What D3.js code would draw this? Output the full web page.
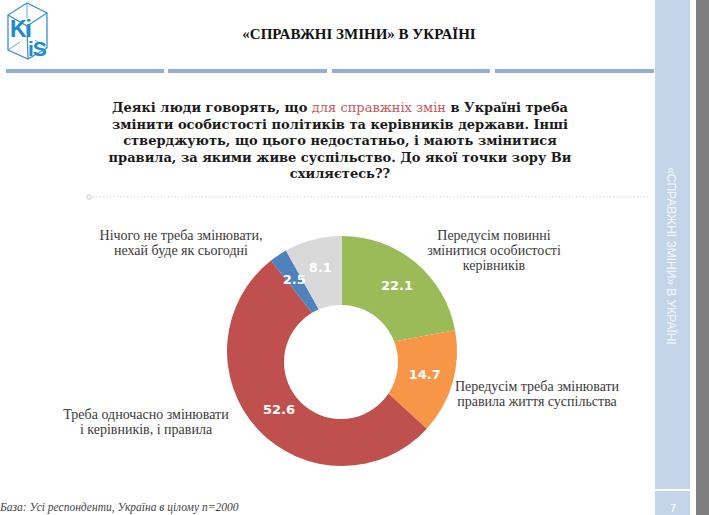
<!DOCTYPE html>
<html>
<head>
<meta charset="utf-8">
<script src="https://cdn.jsdelivr.net/npm/d3@7"></script>
<style>
  body { margin: 0; background: #fff; }
  svg { display: block; }
  .serif { font-family: "Liberation Serif", Tinos, "Nimbus Roman", FreeSerif, "Noto Serif", "DejaVu Serif", "Times New Roman", Times, serif; }
  .bserif { font-family: "DejaVu Serif", "Noto Serif", "Liberation Serif", Tinos, FreeSerif, serif; }
</style>
</head>
<body>
<svg width="709" height="515"></svg>
<script>
// chart data
var categories = [
  "Передусім повинні змінитися особистості керівників",
  "Передусім треба змінювати правила життя суспільства",
  "Треба одночасно змінювати і керівників, і правила",
  "Нічого не треба змінювати, нехай буде як сьогодні",
  "Важко відповісти"
];
var values = [22.1, 14.7, 52.6, 2.5, 8.1];
var sliceColors = ["#9bbb59", "#f79646", "#c0504d", "#4f81bd", "#d9d9d9"];

// text of the outside labels (line breaks as on the slide), grey slice has none
var labelLines = [
  ["Передусім повинні", "змінитися особистості", "керівників"],
  ["Передусім треба змінювати", "правила життя суспільства"],
  ["Треба одночасно змінювати", "і керівників, і правила"],
  ["Нічого не треба змінювати,", "нехай буде як сьогодні"],
  []
];

var title = "«СПРАВЖНІ ЗМІНИ» В УКРАЇНІ";
var question = [
  [["Деякі люди говорять, що ", false], ["для справжніх змін", true], [" в Україні треба", false]],
  [["змінити особистості політиків та керівників держави. Інші", false]],
  [["стверджують, що цього недостатньо, і мають змінитися", false]],
  [["правила, за якими живе суспільство. До якої точки зору Ви", false]],
  [["схиляєтесь??", false]]
];
var footnote = "База: Усі респонденти, Україна в цілому n=2000";
var pageNumber = "7";

var svg = d3.select("svg");

// ---- right side panel
svg.append("rect").attr("x", 655).attr("y", 0).attr("width", 35).attr("height", 515).attr("fill", "#c5d5e9");
svg.append("rect").attr("x", 696).attr("y", 0).attr("width", 13).attr("height", 515).attr("fill", "#7f7f7f");
svg.append("line").attr("x1", 655).attr("x2", 690).attr("y1", 490).attr("y2", 490)
  .attr("stroke", "#fff").attr("stroke-width", 2);
svg.append("text").attr("x", 673).attr("y", 512).attr("text-anchor", "middle")
  .attr("font-family", "Liberation Sans").attr("font-size", 11).attr("fill", "#fff").text(pageNumber);
svg.append("text")
  .attr("transform", "translate(667,256) rotate(90)")
  .attr("text-anchor", "middle")
  .attr("font-family", "Liberation Sans").attr("font-size", 12)
  .attr("fill", "#fff").attr("fill-opacity", 0.85)
  .text(title);

// ---- logo (cube with Ki / iS)
var logo = svg.append("g").attr("fill", "none").attr("stroke", "#3a93cf").attr("stroke-width", 1.3);
logo.append("path").attr("d", "M27,3 L47,13 L47,48 L28,59 L8,50 L8,15 Z");
logo.append("path").attr("d", "M8,15 L27,26 L47,13 M27,26 L28,59");
logo.append("path").attr("d", "M27,3 L27,18 M8,50 L20,42 M47,48 L35,40").attr("stroke-width", 0.8);
svg.append("text").attr("x", 10).attr("y", 37).attr("font-family", "Liberation Sans")
  .attr("font-weight", "bold").attr("font-size", 23).attr("fill", "#1e88d0").attr("letter-spacing", -1).text("Ki");
svg.append("text").attr("x", 28).attr("y", 56).attr("font-family", "Liberation Sans")
  .attr("font-weight", "bold").attr("font-size", 21).attr("fill", "#1e88d0").attr("letter-spacing", -1).text("iS");

// ---- title + blue rule
svg.append("text").attr("class", "serif").attr("x", 359).attr("y", 39).attr("text-anchor", "middle")
  .attr("font-weight", "bold").attr("font-size", 15)
  .attr("fill", "#111").text(title);

[[6, 164], [168, 327], [332, 490], [495, 654]].forEach(function (s) {
  svg.append("rect").attr("x", s[0]).attr("y", 69).attr("width", s[1] - s[0]).attr("height", 4).attr("fill", "#93afd3");
});

// ---- question, one text per line with the coloured phrase as a tspan
question.forEach(function (line, i) {
  var t = svg.append("text").attr("class", "bserif").attr("x", 340).attr("y", 112 + i * 16.6)
    .attr("text-anchor", "middle")
    .attr("font-weight", "bold").attr("font-size", 13).attr("fill", "#1a1a1a");
  line.forEach(function (part) {
    t.append("tspan").attr("fill", part[1] ? "#c85a5a" : null)
      .attr("font-weight", part[1] ? "normal" : null).text(part[0]);
  });
});

// dotted separator
svg.append("circle").attr("cx", 89).attr("cy", 197).attr("r", 2.2).attr("fill", "none").attr("stroke", "#c8c8c8");
svg.append("line").attr("x1", 93).attr("x2", 650).attr("y1", 197).attr("y2", 197)
  .attr("stroke", "#c8c8c8").attr("stroke-width", 1.2).attr("stroke-dasharray", "1.2,2.2");

// ---- doughnut
var cx = 342, cy = 351, outerR = 115, innerR = 57;
var pie = d3.pie().sort(null).value(function (d) { return d; });
var arcs = pie(values);
var arc = d3.arc().innerRadius(0).outerRadius(outerR);
var labelArc = d3.arc().innerRadius(86).outerRadius(86);

var g = svg.append("g").attr("transform", "translate(" + cx + "," + cy + ")");
g.selectAll("path.slice").data(arcs).enter().append("path")
  .attr("class", "slice")
  .attr("d", arc)
  .attr("fill", function (d, i) { return sliceColors[i]; });

// hole (sits slightly low on the photographed slide)
g.append("circle").attr("cx", -1).attr("cy", 11).attr("r", innerR).attr("fill", "#fff");

g.selectAll("text.val").data(arcs).enter().append("text")
  .attr("class", "val")
  .attr("transform", function (d) { return "translate(" + labelArc.centroid(d) + ")"; })
  .attr("dy", "0.36em")
  .attr("text-anchor", "middle")
  .attr("font-family", "DejaVu Sans").attr("font-weight", "bold").attr("font-size", 13)
  .attr("fill", "#fff")
  .text(function (d) { return d.data.toFixed(1); });

// ---- category labels
var labelPos = [[494, 240], [537, 391], [146, 419], [181, 240], null];
labelLines.forEach(function (lines, i) {
  if (!labelPos[i]) return;
  var t = svg.append("text").attr("class", "serif").attr("text-anchor", "middle")
    .attr("font-size", 14).attr("fill", "#3a3a3a");
  lines.forEach(function (s, k) {
    t.append("tspan").attr("x", labelPos[i][0]).attr("y", labelPos[i][1] + k * 15).text(s);
  });
});

// ---- footnote at the bottom edge
svg.append("text").attr("class", "serif").attr("x", 0).attr("y", 511)
  .attr("font-style", "italic").attr("font-size", 11.5)
  .attr("fill", "#444").text(footnote);
</script>
</body>
</html>
